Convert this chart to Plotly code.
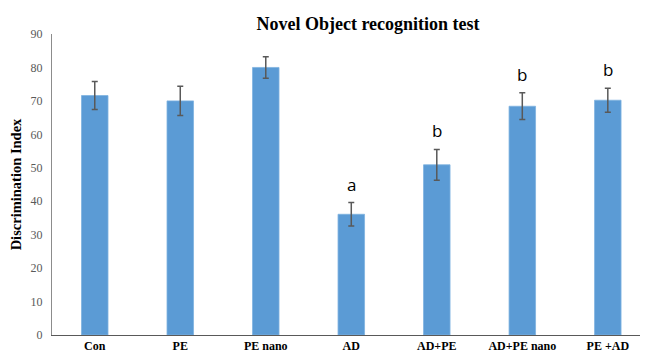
import plotly.graph_objects as go

categories = ["Con", "PE", "PE nano", "AD", "AD+PE", "AD+PE nano", "PE +AD"]
means = [71.6, 70.0, 80.0, 36.1, 50.9, 68.4, 70.2]
errors = [4.2, 4.4, 3.2, 3.5, 4.6, 4.0, 3.6]
letters = ["", "", "", "a", "b", "b", "b"]
yticks = [0, 10, 20, 30, 40, 50, 60, 70, 80, 90]

SERIF = "Liberation Serif, Times New Roman, serif"

fig = go.Figure()
fig.add_trace(go.Bar(
    x=categories, y=means,
    marker=dict(color="#5B9BD5", line=dict(color="#7FB2E0", width=0.8)),
    width=0.31,
    error_y=dict(type="data", array=errors, visible=True,
                 color="#595959", thickness=1.5, width=3),
    showlegend=False,
))

for c, m, e, l in zip(categories, means, errors, letters):
    if l:
        fig.add_annotation(x=c, y=m + e, text=l, showarrow=False,
                           yanchor="bottom", yshift=5,
                           font=dict(family="Open Sans, Arial", size=17, color="#000000"))

fig.update_layout(
    width=640, height=347,
    margin=dict(l=44, r=0, t=26, b=20),
    paper_bgcolor="white", plot_bgcolor="white",
    title=dict(text="<b>Novel Object recognition test</b>", x=0.5625, xanchor="center",
               y=0.955, yanchor="middle",
               font=dict(family=SERIF, size=18, color="#000000")),
    xaxis=dict(range=[-0.5, 6.47], showline=True, linecolor="#595959", linewidth=1,
               ticks="", showgrid=False, zeroline=False,
               tickfont=dict(family=SERIF, size=12, color="#000000"),
               tickprefix="<b>", ticksuffix="</b>"),
    yaxis=dict(range=[0, 90], tickvals=yticks, showline=True, linecolor="#8C8C8C", linewidth=1,
               ticks="", showgrid=False, zeroline=False, ticklabelstandoff=6,
               tickfont=dict(family=SERIF, size=12, color="#595959"),
               tickprefix="<b>", ticksuffix="</b>",
               title=dict(text="<b>Discrimination Index</b>", standoff=6,
                          font=dict(family=SERIF, size=14.5, color="#000000"))),
)

fig.write_html("out.html")
